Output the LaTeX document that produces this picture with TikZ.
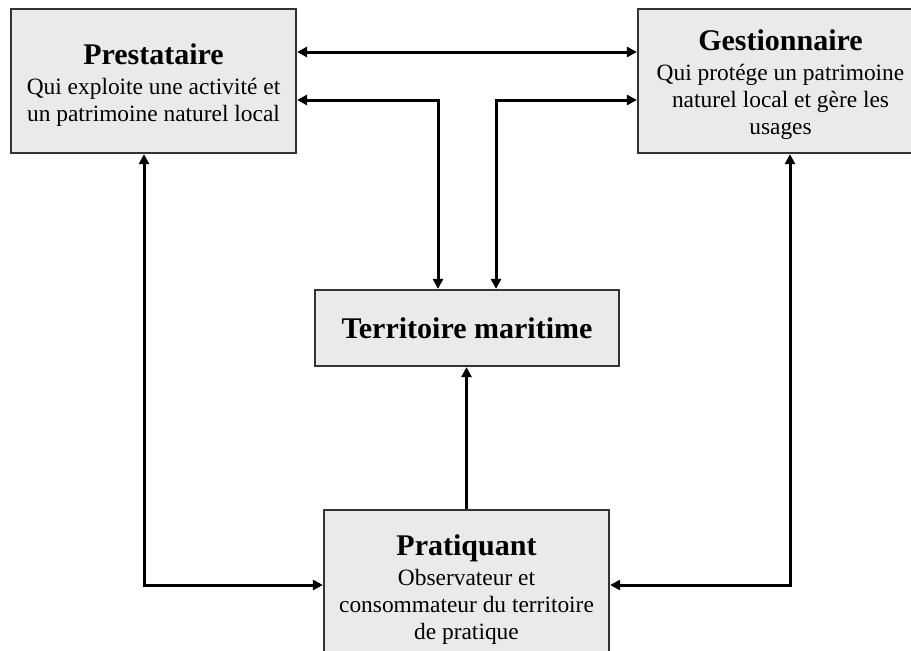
\documentclass[tikz,border=0pt]{standalone}
\usepackage{fontspec}
\setmainfont{Liberation Serif}
\usetikzlibrary{arrows.meta}

\definecolor{fondboite}{HTML}{EAEAEA}
\definecolor{bordboite}{HTML}{333333}
\newcommand{\titre}[1]{{\fontsize{30}{30}\selectfont\bfseries\rule{0pt}{29pt}#1}}

\begin{document}
\begin{tikzpicture}[x=1pt, y=-1pt,
  boite/.style={draw=bordboite, fill=fondboite, line width=2.2pt, align=center,
    inner sep=0pt, font=\fontsize{23.4}{27}\selectfont},
  pointe/.tip={Triangle[length=10pt, width=10pt]},
  fleche/.style={line width=3pt, pointe-pointe},
  simple/.style={line width=3pt, -pointe}]
  \useasboundingbox (0,0) rectangle (911,651);
  \clip (0,0) rectangle (911,651);

  \node[boite, minimum width=285, minimum height=144] (prest) at (153.5,81)
    {\titre{Prestataire}\\[3pt] Qui exploite une activité et\\ un patrimoine naturel local};
  \node[boite, minimum width=285, minimum height=144] (gest) at (780.5,81)
    {\titre{Gestionnaire}\\[3pt] Qui protége un patrimoine\\ naturel local et gère les\\ usages};
  \node[boite, minimum width=304, minimum height=76] (terr) at (467,328)
    {{\fontsize{30}{30}\selectfont\bfseries Territoire maritime}};
  \node[boite, minimum width=285, minimum height=150] (prat) at (466.5,585)
    {\titre{Pratiquant}\\[3pt] Observateur et\\ consommateur du territoire\\ de pratique};

  \coordinate (haut) at (467,52);
  \coordinate (coudeg) at (438,100);
  \coordinate (couded) at (496,100);
  \coordinate (basg) at (144,585);
  \coordinate (basd) at (790,585);

  \draw[fleche] (prest.east |- haut) -- (gest.west |- haut);
  \draw[fleche] (prest.east |- coudeg) -- (coudeg) -- (terr.north -| coudeg);
  \draw[fleche] (gest.west |- couded) -- (couded) -- (terr.north -| couded);
  \draw[fleche] (prest.south -| basg) -- (basg) -- (prat.west |- basg);
  \draw[fleche] (gest.south -| basd) -- (basd) -- (prat.east |- basd);
  \draw[simple] (prat.north) -- (prat.north |- terr.south);
\end{tikzpicture}
\end{document}
